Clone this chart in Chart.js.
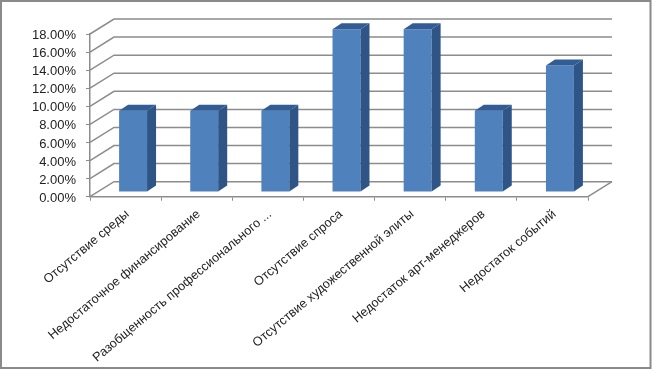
<!DOCTYPE html>
<html>
<head>
<meta charset="utf-8">
<style>
html, body { margin: 0; padding: 0; background: #fff; }
canvas { display: block; }
</style>
<script src="https://cdn.jsdelivr.net/npm/chart.js@4/dist/chart.umd.min.js"></script>
</head>
<body>
<canvas id="chart" width="653" height="369"></canvas>
<script>
var categories = [
    'Отсутствие среды',
    'Недостаточное финансирование',
    'Разобщенность профессионального ...',
    'Отсутствие спроса',
    'Отсутствие художественной элиты',
    'Недостаток арт-менеджеров',
    'Недостаток событий'
];
var seriesValues = [9, 9, 9, 18, 18, 9, 14];
var yTickLabels = ['0.00%', '2.00%', '4.00%', '6.00%', '8.00%', '10.00%', '12.00%', '14.00%', '16.00%', '18.00%'];

var GRID = '#8c8c8c';
var WALL_DX = 24, WALL_DY = -15;
var BAR_DX = 7.5, BAR_DY = -4.7;
var SIDE_DX = 9, SIDE_DY = -6;

function poly(ctx, color, pts) {
    ctx.fillStyle = color;
    ctx.beginPath();
    pts.forEach(function (p, i) {
        if (i === 0) ctx.moveTo(p[0], p[1]);
        else ctx.lineTo(p[0], p[1]);
    });
    ctx.closePath();
    ctx.fill();
}

var fakeDepth = {
    id: 'fakeDepth',
    beforeDatasetsDraw: function (chart) {
        var ctx = chart.ctx, area = chart.chartArea, y = chart.scales.y;
        ctx.save();
        ctx.strokeStyle = GRID;
        ctx.lineWidth = 1.5;
        y.ticks.forEach(function (tick) {
            var py = y.getPixelForValue(tick.value);
            ctx.beginPath();
            ctx.moveTo(area.left, py);
            ctx.lineTo(area.left + WALL_DX, py + WALL_DY);
            ctx.lineTo(area.right + WALL_DX, py + WALL_DY);
            ctx.stroke();
        });
        ctx.beginPath();
        ctx.moveTo(area.right, area.bottom);
        ctx.lineTo(area.right + WALL_DX, area.bottom + WALL_DY);
        ctx.stroke();
        ctx.restore();
    },
    beforeDatasetDraw: function (chart) {
        chart.ctx.save();
        chart.ctx.translate(BAR_DX, BAR_DY);
    },
    afterDatasetDraw: function (chart, args) {
        var ctx = chart.ctx;
        args.meta.data.forEach(function (bar) {
            var p = bar.getProps(['x', 'y', 'base', 'width'], true);
            var l = p.x - p.width / 2, r = p.x + p.width / 2;
            poly(ctx, '#2f5587', [[r, p.y], [r + SIDE_DX, p.y + SIDE_DY], [r + SIDE_DX, p.base + SIDE_DY], [r, p.base]]);
            poly(ctx, '#325d94', [[l, p.y], [l + SIDE_DX, p.y + SIDE_DY], [r + SIDE_DX, p.y + SIDE_DY], [r, p.y]]);
        });
        ctx.restore();
    },
    afterDraw: function (chart) {
        var ctx = chart.ctx;
        ctx.save();
        ctx.strokeStyle = '#8a8a8a';
        ctx.lineWidth = 2;
        ctx.strokeRect(1, 1, 649.5, 367);
        ctx.restore();
    }
};

new Chart(document.getElementById('chart'), {
    type: 'bar',
    data: {
        labels: categories,
        datasets: [{
            data: seriesValues,
            backgroundColor: '#4f81bd',
            barPercentage: 0.393,
            categoryPercentage: 1,
            clip: false
        }]
    },
    plugins: [fakeDepth],
    options: {
        responsive: false,
        animation: false,
        devicePixelRatio: 1,
        layout: { padding: { top: 34, right: 65, left: 0, bottom: 0 } },
        plugins: { legend: { display: false }, title: { display: false }, tooltip: { enabled: false } },
        scales: {
            x: {
                afterFit: function (scale) { scale.height = 172.3; },
                grid: { drawOnChartArea: false, color: GRID, tickLength: 4 },
                border: { color: GRID, width: 1.5 },
                ticks: {
                    autoSkip: false,
                    minRotation: 40,
                    maxRotation: 40,
                    padding: 6,
                    labelOffset: 2,
                    color: '#222',
                    font: { family: '"Liberation Sans"', size: 12.7 }
                }
            },
            y: {
                min: 0,
                max: 18,
                afterFit: function (scale) { scale.width = 90; },
                grid: { drawOnChartArea: false, color: GRID, tickLength: 4 },
                border: { color: GRID, width: 1.5 },
                ticks: {
                    stepSize: 2,
                    autoSkip: false,
                    padding: 10,
                    labelOffset: 1.5,
                    color: '#222',
                    font: { family: '"Liberation Sans"', size: 13 },
                    callback: function (value, index) { return yTickLabels[index]; }
                }
            }
        }
    }
});
</script>
</body>
</html>
